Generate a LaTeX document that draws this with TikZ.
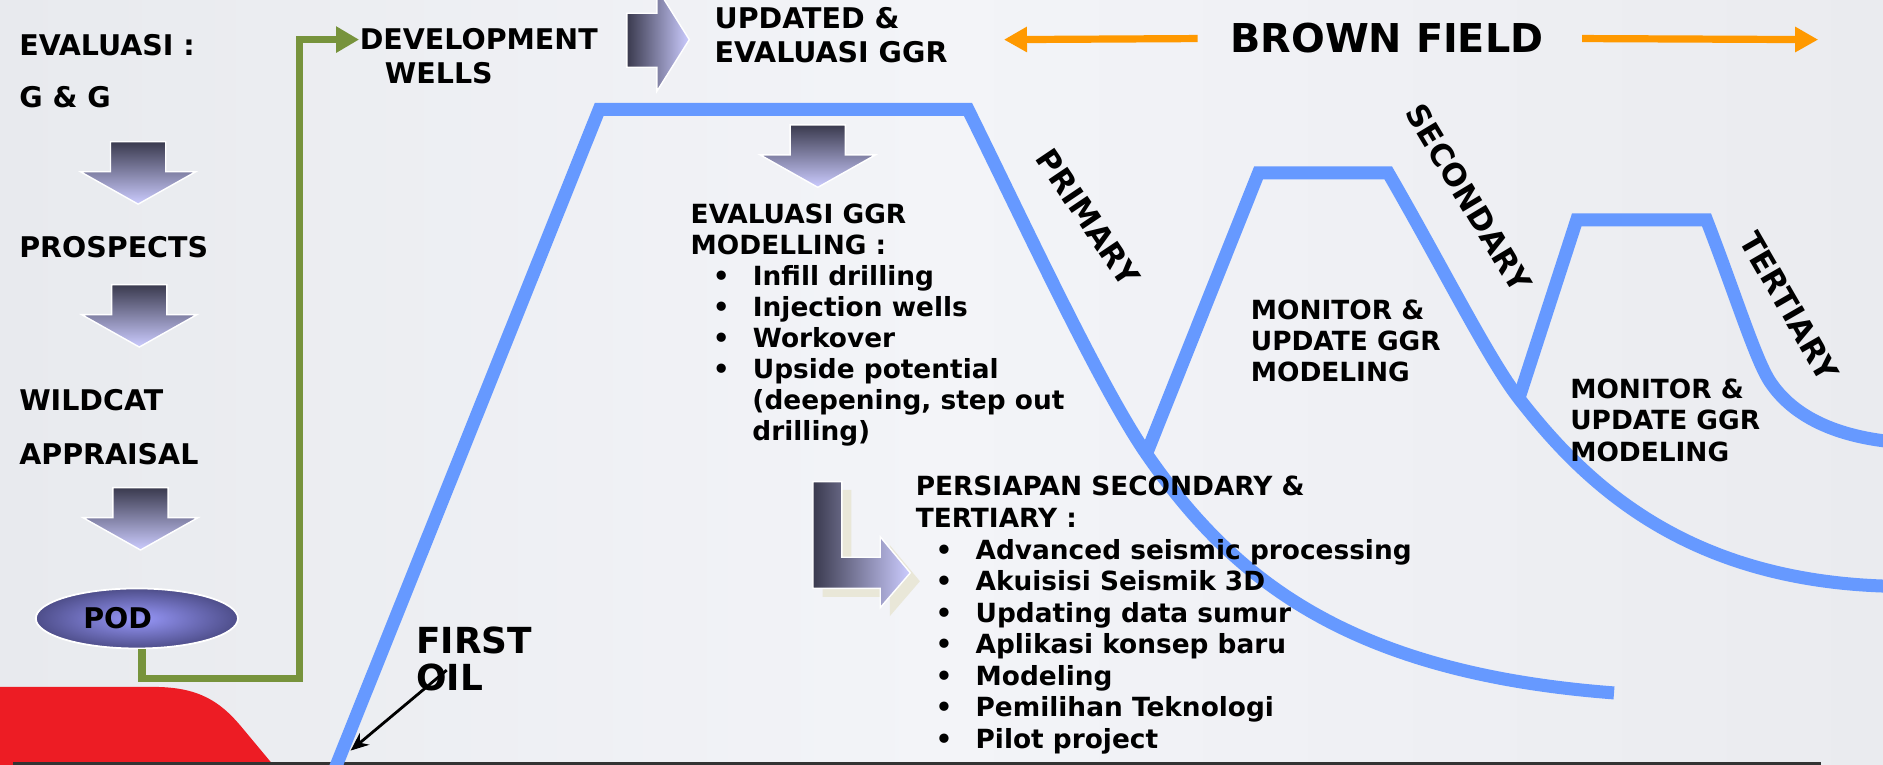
\documentclass[tikz,border=0pt]{standalone}
\usepackage{fontspec}
\setmainfont{DejaVu Sans}
\usetikzlibrary{arrows.meta,shapes.geometric}
\definecolor{bluecurve}{HTML}{6699FF}
\definecolor{olive}{HTML}{77933C}
\definecolor{orangearr}{HTML}{FF9900}
\definecolor{redcorner}{HTML}{ED1C24}
\definecolor{darkblk}{HTML}{3A3A4E}
\definecolor{lightblk}{HTML}{CCCCFF}
\definecolor{shadowblk}{HTML}{E9E7D8}
\definecolor{bgleft}{HTML}{E8EAEE}
\definecolor{bgmid}{HTML}{F3F4F8}
\definecolor{bgright}{HTML}{EAEBEF}
\newcommand{\itm}{\makebox[4mm][l]{\textbullet}}
\tikzset{
  lbl/.style={anchor=base west, inner sep=0pt, font=\fontsize{8.1}{9.7}\selectfont\bfseries},
  lst/.style={anchor=base west, inner sep=0pt, font=\fontsize{7.5}{9}\selectfont\bfseries},
  stage/.style={inner sep=0pt, font=\fontsize{8.8}{10.5}\selectfont\bfseries},
  curve/.style={draw=bluecurve, line width=1.3mm},
  devline/.style={draw=olive, line width=0.72mm, -{Triangle[length=2.3mm,width=2.5mm]}},
  fieldarrow/.style={draw=orangearr, line width=0.72mm, -{Triangle[length=2.3mm,width=2.4mm]}},
  oilarrow/.style={draw=black, line width=0.8pt, -{Stealth[length=1.8mm,width=1.5mm]}},
  blkdown/.style={top color=darkblk, bottom color=lightblk, draw=white, line width=0.4pt},
  blkright/.style={left color=darkblk, right color=lightblk, draw=white, line width=0.4pt},
  podshape/.style={ellipse, minimum width=20.2mm, minimum height=6mm, inner sep=0pt,
    draw=white, line width=0.5pt, inner color={rgb,255:red,152;green,152;blue,250},
    outer color={rgb,255:red,78;green,78;blue,138}}
}
\begin{document}
\begin{tikzpicture}[x=0.12mm, y=-0.12mm]
  \useasboundingbox (0,0) rectangle (1568,637);
  \clip (0,0) rectangle (1568,637);
  \shade[left color=bgleft, right color=bgright, middle color=bgmid] (0,0) rectangle (1568,637);
  \fill[redcorner] (0,572) -- (128,572) .. controls (165,572) and (183,584) .. (200,604) -- (230,640) -- (0,640) -- cycle;
  \draw[black!80, line width=0.3mm] (11,636) -- (1516,636);

  \draw
    (15.5,45.8) node[lbl] (eval){EVALUASI :}
    (15.5,89.4) node[lbl] (gg){G \& G}
    (15.5,214.6) node[lbl] (prosp){PROSPECTS}
    (15.5,342) node[lbl] (wild){WILDCAT}
    (15.5,387) node[lbl] (appr){APPRAISAL}
    (299,41.6) node[lbl] (dev){DEVELOPMENT}
    (320,69.4) node[lbl] (wells){WELLS}
    (594.5,23.6) node[lbl] (upd1){UPDATED \&}
    (594.5,52.2) node[lbl] (upd2){EVALUASI GGR};

  \foreach \x/\y in {92/118, 93/237, 94/406, 658/104}
    \shade[blkdown] (\x,\y) -- ++(46,0) -- ++(0,25) -- ++(25,0) -- ++(-48,27) -- ++(-48,-27) -- ++(25,0) -- cycle;
  \shade[blkright] (522,11) -- (547,11) -- (547,-10) -- (574,33) -- (547,76) -- (547,56) -- (522,56) -- cycle;
  \fill[shadowblk] (685,408) -- (709,408) -- (709,471) -- (741,471) -- (741,454) -- (766,484) -- (741,513) -- (741,497) -- (685,497) -- cycle;
  \shade[blkright] (677,401) -- (701,401) -- (701,464) -- (733,464) -- (733,447) -- (758,477) -- (733,506) -- (733,490) -- (677,490) -- cycle;

  \node[podshape] (pod) at (114,515) {};
  \node[lbl, anchor=center] (podtxt) at (98,515) {POD};
  \coordinate (bend) at (249.5,565);
  \draw[devline] ([xshift=0.5mm]pod.south) |- (bend) |- (dev.west);

  \node[lbl, anchor=base west, font=\fontsize{11.3}{13}\selectfont\bfseries] (brown) at (1024,44) {BROWN FIELD};
  \coordinate (fieldstart) at (836,33);
  \coordinate (fieldend) at (1514,33);
  \draw[fieldarrow, shorten <=3.2mm] (brown.west) -- (fieldstart);
  \draw[fieldarrow, shorten <=3.8mm] (brown.east) -- (fieldend);

  \draw[curve] (279,640) -- (499,91) -- (806,91)
    .. controls (850,180) and (915,320) .. (954,377)
    .. controls (1025,480) and (1120,560) .. (1344,577);
  \draw[curve] (955,377) -- (1048,144) -- (1156,144)
    .. controls (1200,220) and (1240,300) .. (1265,332)
    .. controls (1318,400) and (1400,482) .. (1568,488) -- (1600,489);
  \draw[curve] (1265,331) -- (1313,183) -- (1421,183)
    .. controls (1445,245) and (1462,300) .. (1474,318)
    .. controls (1488,339) and (1515,360) .. (1568,367) -- (1600,372);

  \node[stage, rotate=-56] (prim) at (906,181) {PRIMARY};
  \node[stage, rotate=-59] (sec) at (1223,165) {SECONDARY};
  \node[stage, rotate=-60] (ter) at (1490,255) {TERTIARY};

  \draw
    (574.6,186) node[lst] (ggr1){EVALUASI GGR}
    (574.6,211.9) node[lst] (ggr2){MODELLING :}
    (593,237.7) node[lst] (ggr3){\itm Infill drilling}
    (593,263.6) node[lst] (ggr4){\itm Injection wells}
    (593,289.4) node[lst] (ggr5){\itm Workover}
    (593,315.3) node[lst] (ggr6){\itm Upside potential}
    (626,341.1) node[lst] (ggr7){(deepening, step out}
    (626,367) node[lst] (ggr8){drilling)};

  \draw
    (762,413) node[lst] (prep1){PERSIAPAN SECONDARY \&}
    (762,439.3) node[lst] (prep2){TERTIARY :}
    (778.5,465.5) node[lst] (prep3){\itm Advanced seismic processing}
    (778.5,491.8) node[lst] (prep4){\itm Akuisisi Seismik 3D}
    (778.5,518) node[lst] (prep5){\itm Updating data sumur}
    (778.5,544.3) node[lst] (prep6){\itm Aplikasi konsep baru}
    (778.5,570.6) node[lst] (prep7){\itm Modeling}
    (778.5,596.8) node[lst] (prep8){\itm Pemilihan Teknologi}
    (778.5,623.1) node[lst] (prep9){\itm Pilot project};

  \draw
    (1041,266) node[lst] (mon1){MONITOR \&}
    (1041,292) node[lst] (mon2){UPDATE GGR}
    (1041,318) node[lst] (mon3){MODELING}
    (1307,332) node[lst] (mon4){MONITOR \&}
    (1307,358) node[lst] (mon5){UPDATE GGR}
    (1307,384) node[lst] (mon6){MODELING};

  \node[lbl, font=\fontsize{10.2}{12}\selectfont\bfseries] (first) at (346,544) {FIRST};
  \node[lbl, font=\fontsize{10.2}{12}\selectfont\bfseries] (oil) at (346,574.6) {OIL};
  \coordinate (oiltail) at (372,558);
  \coordinate (oilhead) at (292,625);
  \draw[oilarrow] (oiltail) -- (oilhead);
\end{tikzpicture}
\end{document}
